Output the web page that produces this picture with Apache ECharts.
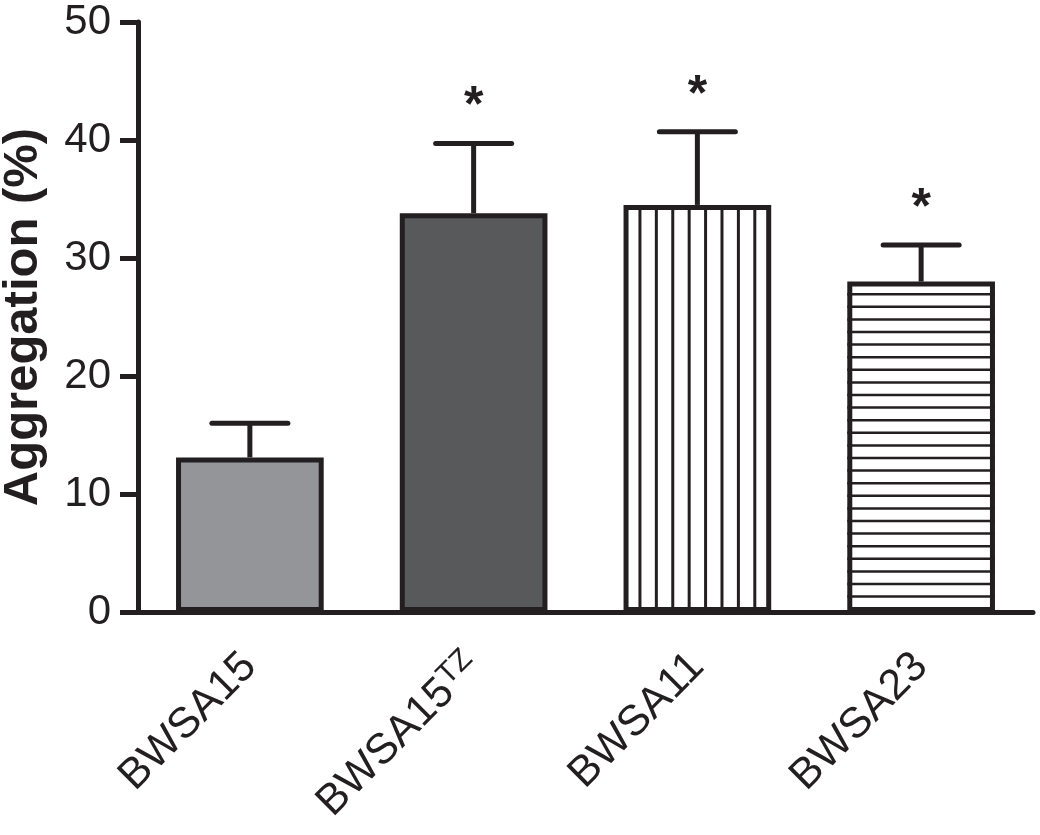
<!DOCTYPE html>
<html>
<head>
<meta charset="utf-8">
<script src="https://cdn.jsdelivr.net/npm/echarts@6/dist/echarts.min.js"></script>
<style>
  html, body { margin: 0; padding: 0; background: #fff; }
  #chart { width: 1040px; height: 835px; }
</style>
</head>
<body>
<div id="chart"></div>
<script>
// data
const categories = ['BWSA15', 'BWSA15TZ', 'BWSA11', 'BWSA23'];
const superscripts = ['', 'TZ', '', ''];
const means = [13.1, 33.8, 34.5, 28.0];
const errorTops = [16.0, 39.7, 40.7, 31.1];
const significant = [false, true, true, true];
const yTicks = [0, 10, 20, 30, 40, 50];

const INK = '#231f20';
const FONT = 'Liberation Sans, Arial, sans-serif';
const BAR_RATIO = 0.66;
const fills = ['#939598', '#58595b', '#ffffff', '#ffffff'];
const patterns = ['none', 'none', 'vertical', 'horizontal'];

const chart = echarts.init(document.getElementById('chart'));

// stripes, error bars and stars on top of the bars
function renderExtras(params, api) {
  const i = api.value(0);
  const base = api.coord([i, 0]);
  const top = api.coord([i, api.value(1)]);
  const err = api.coord([i, api.value(2)]);
  const bandW = api.size([1, 0])[0];
  const barW = bandW * BAR_RATIO;
  const x0 = top[0] - barW / 2;
  const x1 = top[0] + barW / 2;
  const children = [];

  if (patterns[i] === 'vertical') {
    const n = 9;
    for (let k = 1; k < n; k++) {
      const x = x0 + (barW * k) / n;
      children.push({
        type: 'line',
        shape: { x1: x, y1: top[1], x2: x, y2: base[1] },
        style: { stroke: INK, lineWidth: 3 }
      });
    }
  } else if (patterns[i] === 'horizontal') {
    const step = 12.6;
    for (let y = top[1] + step; y < base[1] - 3; y += step) {
      children.push({
        type: 'line',
        shape: { x1: x0, y1: y, x2: x1, y2: y },
        style: { stroke: INK, lineWidth: 2.5 }
      });
    }
  }

  const capHalf = 38;
  children.push({
    type: 'line',
    shape: { x1: top[0], y1: top[1], x2: top[0], y2: err[1] },
    style: { stroke: INK, lineWidth: 5 }
  });
  children.push({
    type: 'line',
    shape: { x1: top[0] - capHalf, y1: err[1], x2: top[0] + capHalf, y2: err[1] },
    style: { stroke: INK, lineWidth: 5, lineCap: 'round' }
  });

  if (significant[i]) {
    children.push({
      type: 'text',
      style: {
        text: '*',
        x: top[0],
        y: err[1] - 36,
        align: 'center',
        verticalAlign: 'middle',
        fontFamily: FONT,
        fontWeight: 'bold',
        fontSize: 50,
        fill: INK
      }
    });
  }
  return { type: 'group', children: children };
}

const option = {
  animation: false,
  backgroundColor: '#fff',
  grid: { left: 138, right: 7, top: 22, bottom: 223, outerBoundsMode: 'none', containLabel: false },
  xAxis: {
    type: 'category',
    data: categories,
    axisLine: { lineStyle: { color: INK, width: 5 } },
    axisTick: { alignWithLabel: true, length: 18, lineStyle: { color: INK, width: 5 } },
    axisLabel: {
      rotate: 45,
      margin: 48,
      color: INK,
      fontFamily: FONT,
      formatter: function (value, idx) {
        const sup = superscripts[idx];
        if (sup) {
          return '{b|' + value.slice(0, value.length - sup.length) + '}{s|' + sup + '}';
        }
        return '{b|' + value + '}';
      },
      rich: {
        b: { fontSize: 43, lineHeight: 46, color: INK, fontFamily: FONT },
        s: { fontSize: 30, lineHeight: 30, verticalAlign: 'top', color: INK, fontFamily: FONT }
      }
    }
  },
  yAxis: {
    type: 'value',
    min: yTicks[0],
    max: yTicks[yTicks.length - 1],
    interval: 10,
    name: 'Aggregation (%)',
    nameLocation: 'middle',
    nameGap: 90,
    nameTextStyle: {
      fontFamily: FONT,
      fontSize: 49,
      fontWeight: 'bold',
      color: INK
    },
    splitLine: { show: false },
    axisLine: { show: true, lineStyle: { color: INK, width: 5 } },
    axisTick: { show: true, length: 18, lineStyle: { color: INK, width: 5 } },
    axisLabel: {
      margin: 27,
      fontSize: 42,
      color: INK,
      fontFamily: FONT
    }
  },
  series: [
    {
      type: 'bar',
      barWidth: BAR_RATIO * 100 + '%',
      data: means.map((v, i) => ({
        value: v,
        itemStyle: { color: fills[i], borderColor: INK, borderWidth: 5 }
      })),
      z: 2
    },
    {
      type: 'custom',
      renderItem: renderExtras,
      data: means.map((v, i) => [i, v, errorTops[i]]),
      z: 3
    }
  ]
};

chart.setOption(option);
</script>
</body>
</html>
